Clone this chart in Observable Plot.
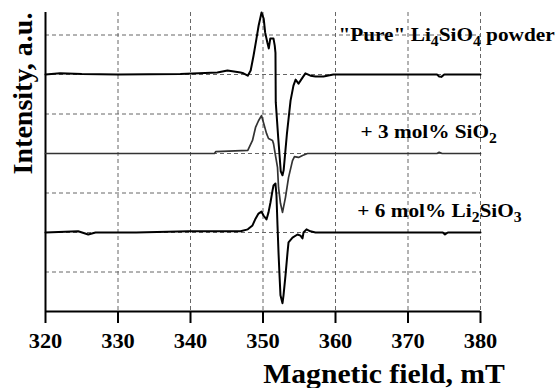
<!DOCTYPE html>
<html>
<head>
<meta charset="utf-8">
<script src="https://cdn.jsdelivr.net/npm/d3@7"></script>
<script src="https://cdn.jsdelivr.net/npm/@observablehq/plot@0.6"></script>
<style>
  html, body { margin: 0; padding: 0; background: #fff; }
  #chart svg { display: block; }
</style>
</head>
<body>
<div id="chart"></div>
<script>
// ---- data ----
const xTicks = [320, 330, 340, 350, 360, 370, 380];
const yGridLevels = [1, 2, 3, 4, 5, 6, 7];

const seriesNames = ["Pure", "SiO2", "Li2SiO3"];
const seriesOffsets = [6, 4, 2];

const fieldPure = [320, 322, 325, 330, 338.6, 343.7, 345.1, 346.9, 347.3, 347.9, 348.3, 348.7, 349.1, 349.4, 349.8, 350.1, 350.3, 350.6, 350.8, 351.0, 351.45, 351.62, 351.72, 351.76, 352.1, 352.45, 352.69, 352.85, 353.3, 353.8, 354.2, 354.5, 354.9, 355.45, 355.85, 356.55, 357.25, 358.35, 359.7, 374.0, 374.3, 374.6, 375.0, 380];
const intPure   = [0, 0.03, 0.01, 0, 0.01, 0.05, 0.10, 0.05, 0.03, -0.03, 0.10, 0.48, 0.91, 1.24, 1.57, 1.41, 1.06, 0.81, 0.66, 0.91, 0.91, 0.73, 0.55, -0.70, -1.60, -2.45, -2.55, -2.42, -1.50, -0.66, -0.28, -0.13, -0.23, -0.08, 0.03, -0.03, -0.05, -0.05, 0, 0, -0.05, -0.06, 0, 0];

const fieldSiO2 = [320, 330, 340, 343.3, 343.5, 347.9, 348.55, 348.97, 349.38, 349.79, 350.07, 350.48, 350.76, 351.31, 351.45, 351.72, 352.0, 352.14, 352.41, 352.69, 353.1, 353.52, 354.07, 354.34, 354.9, 355.45, 356.14, 374.0, 374.3, 374.7, 380];
const intSiO2   = [0, 0, 0, 0, 0.05, 0.08, 0.33, 0.66, 0.83, 0.96, 0.78, 0.51, 0.38, 0.33, 0.25, -0.05, -0.35, -0.86, -1.26, -1.49, -1.11, -0.61, -0.18, -0.08, -0.10, -0.05, 0, 0, 0.03, 0, 0];

const fieldLi2SiO3 = [320, 324.5, 325.9, 326.9, 332.5, 339.7, 346.9, 347.9, 348.55, 348.97, 349.38, 349.79, 350.07, 350.48, 350.76, 351.03, 351.31, 351.45, 351.72, 351.86, 352.0, 352.14, 352.28, 352.41, 352.69, 352.83, 353.1, 353.38, 353.52, 354.07, 354.76, 355.17, 355.45, 355.59, 356.0, 356.55, 357.24, 374.8, 375.1, 375.5, 380];
const intLi2SiO3   = [0, 0.03, -0.05, 0, 0, 0.03, 0.03, 0.08, 0.18, 0.35, 0.48, 0.53, 0.43, 0.33, 0.51, 0.76, 1.06, 1.19, 1.24, 0.93, 0.18, -0.51, -1.09, -1.59, -1.79, -1.59, -1.09, -0.51, -0.25, -0.13, -0.05, -0.08, -0.15, 0, 0.08, 0.03, 0, 0, -0.05, 0, 0];

const labelTexts = ['"Pure" Li_4SiO_4 powder', '+ 3 mol% SiO_2', '+ 6 mol% Li_2SiO_3'];
const xTitle = "Magnetic field, mT";
const yTitle = "Intensity, a.u.";

// ---- build table ----
const fields = [fieldPure, fieldSiO2, fieldLi2SiO3];
const ints = [intPure, intSiO2, intLi2SiO3];
const rows = [];
seriesNames.forEach((s, k) => {
  fields[k].forEach((f, i) => rows.push({series: s, field: f, value: ints[k][i] + seriesOffsets[k]}));
});

const SERIF = "'Liberation Serif', 'Times New Roman', serif";
const gridStyle = {stroke: "#666", strokeOpacity: 1, strokeWidth: 1, strokeDasharray: "4,3"};

const plot = Plot.plot({
  width: 560,
  height: 388,
  marginLeft: 45,
  marginRight: 80,
  marginTop: 12,
  marginBottom: 77,
  x: {domain: [320, 380], axis: null},
  y: {domain: [0, 7.57], axis: null},
  style: {fontFamily: SERIF, fontWeight: "bold", background: "#fff", color: "#000"},
  marks: [
    Plot.gridX(xTicks.slice(1), gridStyle),
    Plot.gridY(yGridLevels, gridStyle),
    Plot.ruleX([320], {stroke: "#000", strokeWidth: 2}),
    Plot.ruleY([0], {stroke: "#000", strokeWidth: 2}),
    // tick marks below the axis
    Plot.ruleX(xTicks, {x: d => d, y1: 0, y2: 0, insetBottom: -12, stroke: "#000", strokeWidth: 2}),
    // tick labels
    Plot.text(xTicks, {x: d => d, frameAnchor: "bottom", dy: 30, lineAnchor: "middle", textAnchor: "middle", fontSize: 20, fill: "#000", text: d => String(d)}),
    Plot.line(rows.filter(d => d.series === "SiO2"), {x: "field", y: "value", stroke: "#333", strokeWidth: 1.7, strokeLinejoin: "round"}),
    Plot.line(rows.filter(d => d.series !== "SiO2"), {x: "field", y: "value", z: "series", stroke: "#000", strokeWidth: 2, strokeLinejoin: "round"}),
    Plot.text([labelTexts[0]], {x: 360.4, y: 7.0, textAnchor: "start", fontSize: 19, fill: "#000"}),
    Plot.text([labelTexts[1]], {x: 363.45, y: 4.556, textAnchor: "start", fontSize: 19, fill: "#000"}),
    Plot.text([labelTexts[2]], {x: 363.0, y: 2.535, textAnchor: "start", fontSize: 19, fill: "#000"}),
    Plot.text([xTitle], {frameAnchor: "bottom", dx: 121, dy: 63, textAnchor: "middle", lineAnchor: "middle", fontSize: 26.5, fill: "#000"}),
    Plot.text([yTitle], {frameAnchor: "top-left", dx: -22, dy: 81, rotate: -90, textAnchor: "middle", lineAnchor: "middle", fontSize: 28, fill: "#000"})
  ]
});

document.getElementById("chart").append(plot);

// subscripts
d3.select(plot).selectAll("text").each(function() {
  const t = this.textContent;
  if (!/_\d/.test(t)) return;
  while (this.firstChild) this.removeChild(this.firstChild);
  const parts = t.split(/(_\d)/).filter(p => p.length);
  let shifted = false;
  for (const p of parts) {
    const ts = document.createElementNS("http://www.w3.org/2000/svg", "tspan");
    if (p.startsWith("_")) {
      ts.textContent = p.slice(1);
      ts.setAttribute("font-size", "14");
      ts.setAttribute("dy", "5");
      shifted = true;
    } else {
      ts.textContent = p;
      if (shifted) { ts.setAttribute("dy", "-5"); shifted = false; }
    }
    this.appendChild(ts);
  }
});

// horizontal stretch of lettering, as in the reference (not for the rotated title)
const STRETCH = 1.12;
d3.select(plot).selectAll("text").each(function() {
  if (this.textContent === yTitle) return;
  const L = this.getComputedTextLength();
  if (L > 0) {
    this.setAttribute("textLength", (L * STRETCH).toFixed(1));
    this.setAttribute("lengthAdjust", "spacingAndGlyphs");
  }
});
</script>
</body>
</html>
